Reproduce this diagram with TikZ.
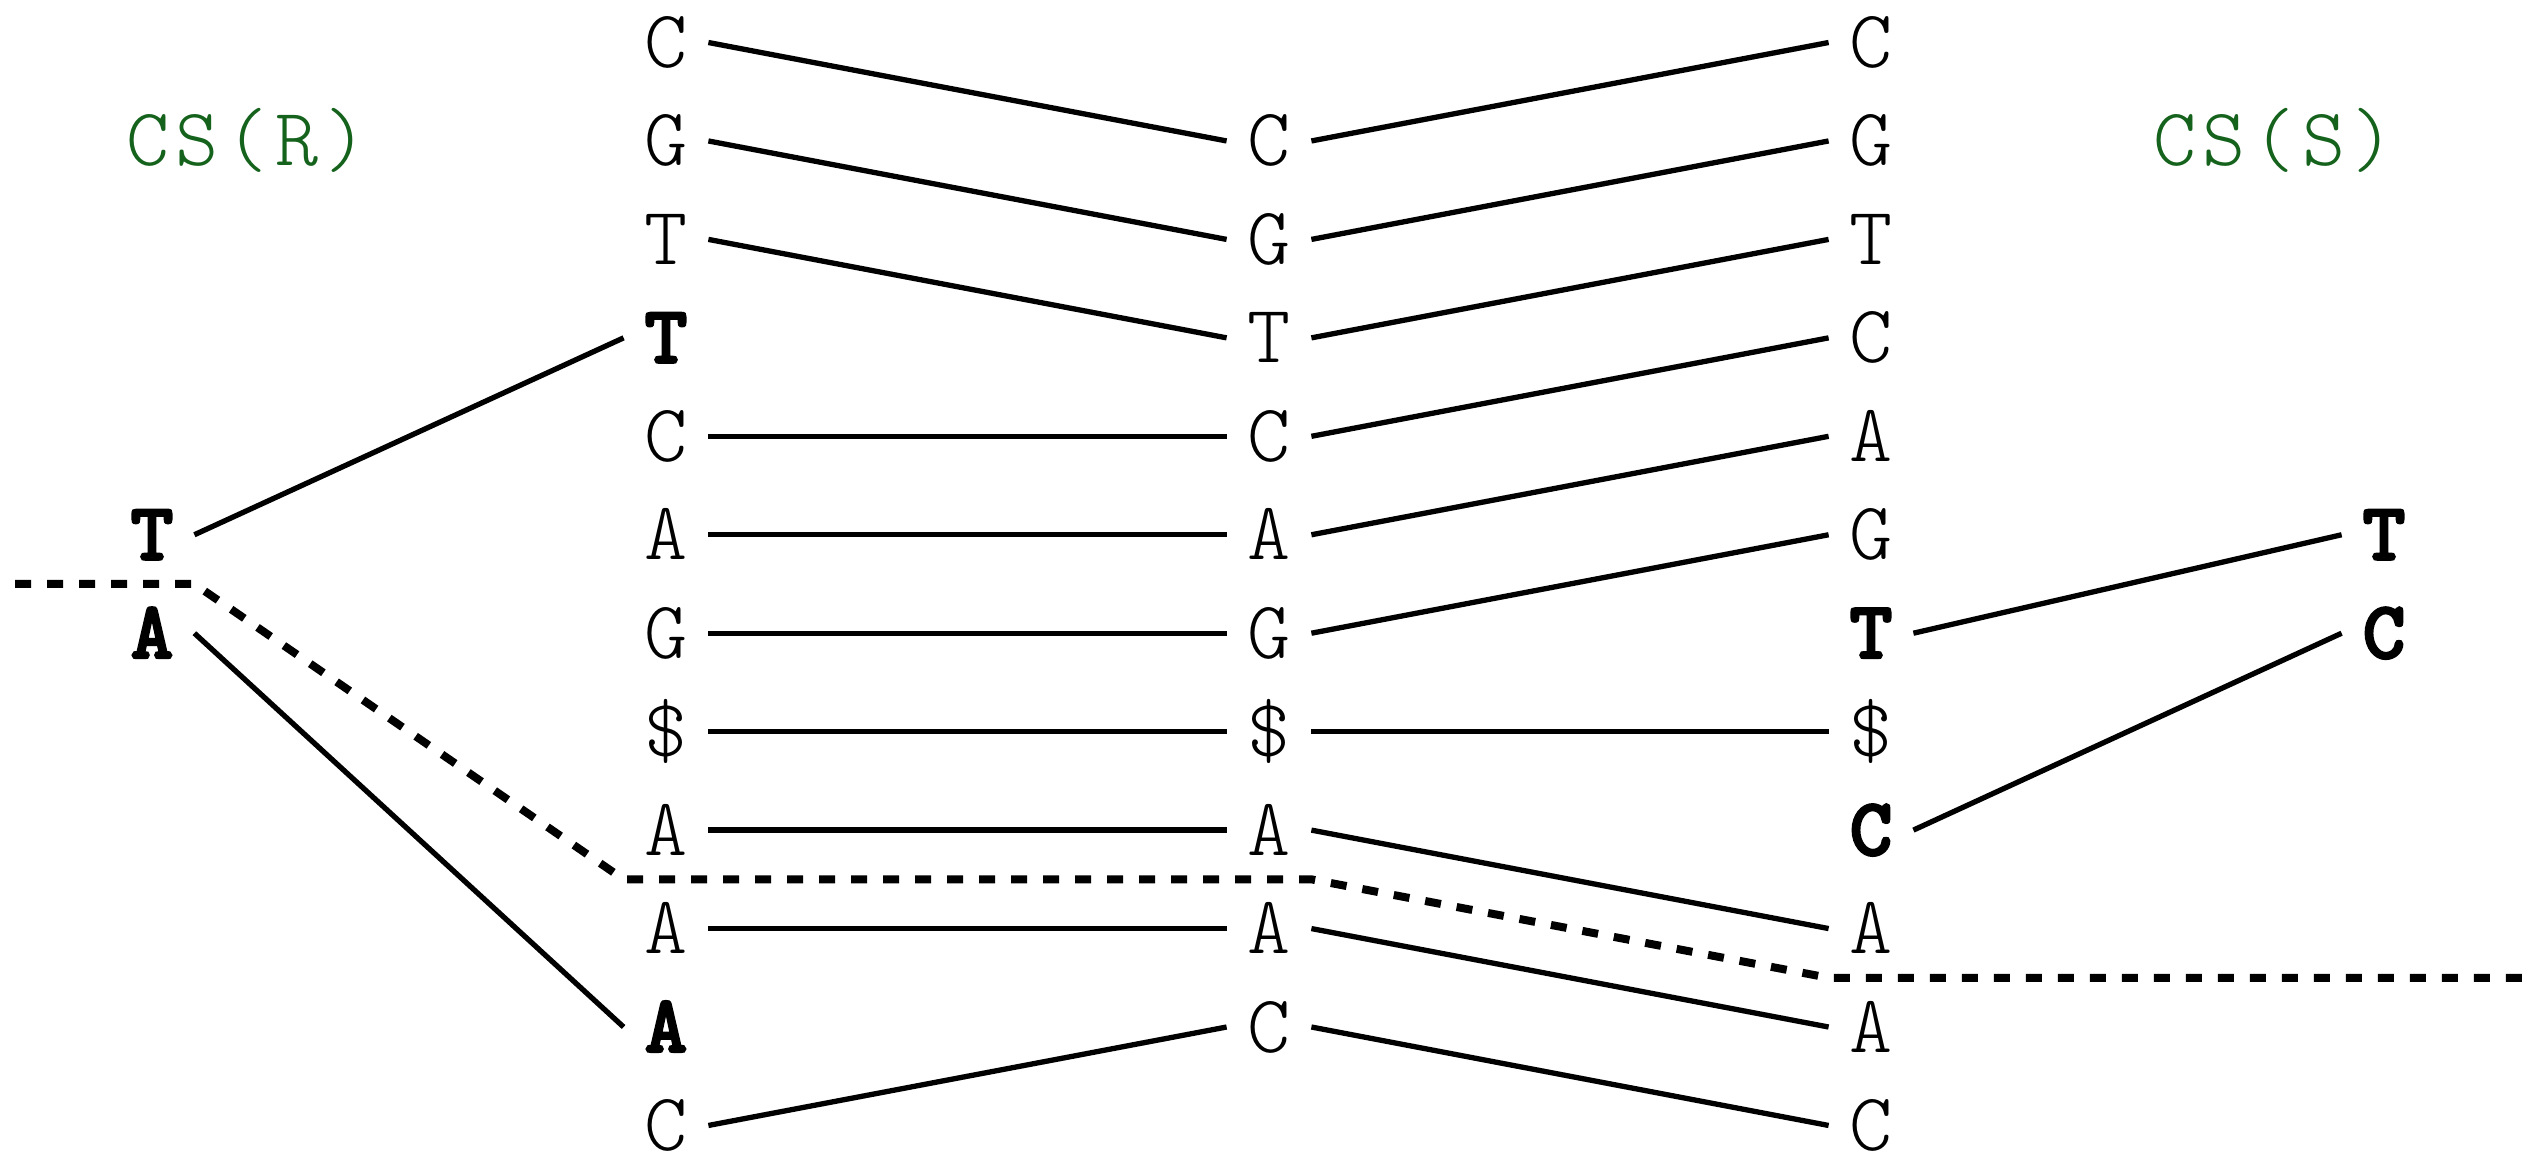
\documentclass[tikz,border=0pt]{standalone}
\usepackage{fontspec}
\usetikzlibrary{calc}
\newfontfamily\lettfont{lmmonolt10-regular.otf}[BoldFont=lmmonolt10-bold.otf,BoldFeatures={FakeBold=2.5}]
\newfontfamily\lblfont{lmmonolt10-regular.otf}[LetterSpace=8]
\definecolor{csgreen}{RGB}{20,98,28}
\begin{document}
\begin{tikzpicture}[x=0.5pt,y=-0.5pt,
  letter/.style={inner sep=0pt, minimum width=42pt, text height=25pt, text depth=0pt,
    font=\lettfont\fontsize{41}{41}\selectfont},
  cslabel/.style={inner sep=0pt, text height=25pt, text depth=0pt, text=csgreen,
    font=\lblfont\fontsize{41}{41}\selectfont},
  link/.style={line width=2.65pt},
  cut/.style={line width=4pt, dash pattern=on 8pt off 8pt}]
\useasboundingbox (0,0) rectangle (2539,1152);
% columns
\foreach \t [count=\i from 0] in {C,G,T,\textbf{T},C,A,G,\$,A,A,\textbf{A},C}
  \node[letter] (a\i) at (666,{42.5+98.45*\i}) {\t};
\foreach \t [count=\i from 1] in {C,G,T,C,A,G,\$,A,A,C}
  \node[letter] (b\i) at (1269,{42.5+98.45*\i}) {\t};
\foreach \t [count=\i from 0] in {C,G,T,C,A,G,\textbf{T},\$,\textbf{C},A,A,C}
  \node[letter] (c\i) at (1871,{42.5+98.45*\i}) {\t};
\node[letter] (lT) at (152,{42.5+98.45*5}) {\textbf{T}};
\node[letter] (lA) at (152,{42.5+98.45*6}) {\textbf{A}};
\node[letter] (rT) at (2384,{42.5+98.45*5}) {\textbf{T}};
\node[letter] (rC) at (2384,{42.5+98.45*6}) {\textbf{C}};
% labels
\node[cslabel] (csr) at (247,140) {CS(R)};
\node[cslabel] (css) at (2274,140) {CS(S)};
% links col2 -> col3
\foreach \p/\q in {a0/b1,a1/b2,a2/b3,a4/b4,a5/b5,a6/b6,a7/b7,a8/b8,a9/b9,a11/b10}
  \draw[link] (\p.east) -- (\q.west);
\draw[link] (lT.east) -- (a3.west);
\draw[link] (lA.east) -- (a10.west);
% links col3 -> col4
\foreach \p/\q in {b1/c0,b2/c1,b3/c2,b4/c3,b5/c4,b6/c5,b7/c7,b8/c9,b9/c10,b10/c11}
  \draw[link] (\p.east) -- (\q.west);
\draw[link] (c6.east) -- (rT.west);
\draw[link] (c8.east) -- (rC.west);
% dashed cut
\coordinate (d1) at ($(lT.east)!0.5!(lA.east)$);
\coordinate (d0) at (15,0 |- d1);
\coordinate (d2) at ($(a8.west)!0.5!(a9.west)$);
\coordinate (d3) at ($(b8.east)!0.5!(b9.east)$);
\coordinate (d4) at ($(c9.west)!0.5!(c10.west)$);
\coordinate (d5) at (2535,0 |- d4);
\draw[cut] (d0) -- (d1) -- (d2) -- (d3) -- (d4) -- (d5);
\end{tikzpicture}
\end{document}
